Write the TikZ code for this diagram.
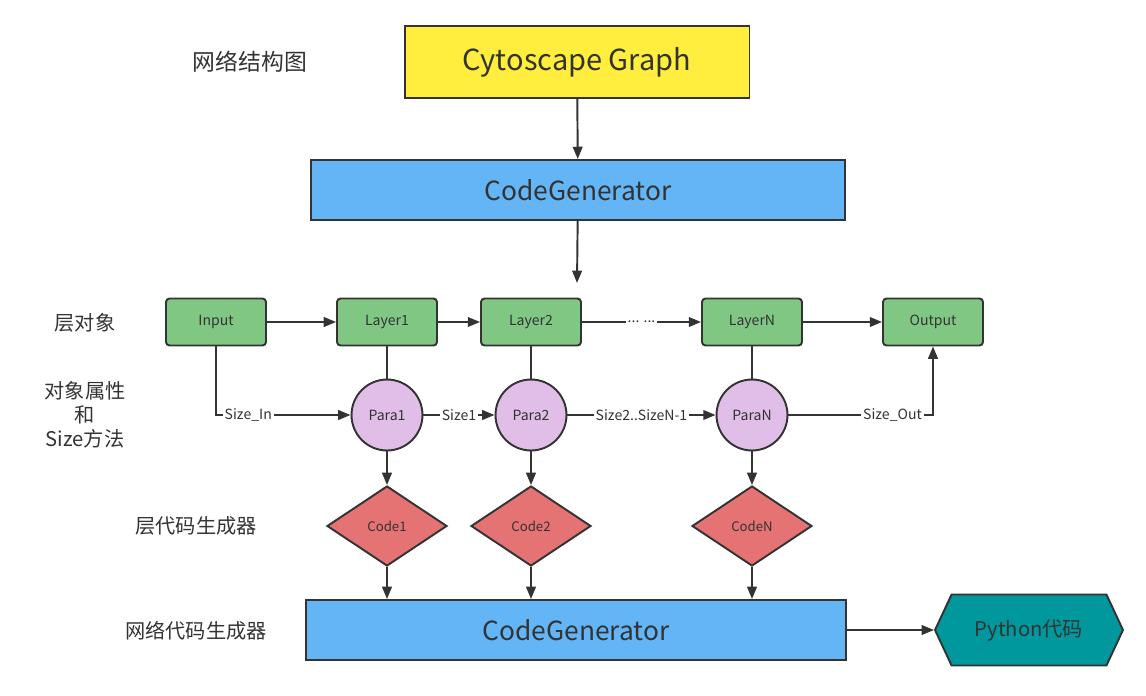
\documentclass[tikz,border=0pt]{standalone}
\usepackage{fontspec}
\setmainfont{Noto Sans CJK SC}
\usepackage{xcolor}
\usetikzlibrary{shapes.geometric,shapes.symbols,arrows.meta}
\definecolor{ink}{HTML}{333333}
\definecolor{yel}{HTML}{FFEE3D}
\definecolor{blu}{HTML}{64B5F6}
\definecolor{grn}{HTML}{81C784}
\definecolor{pur}{HTML}{E1BEE7}
\definecolor{red}{HTML}{E57373}
\definecolor{tea}{HTML}{00979D}

\begin{document}
\begin{tikzpicture}[x=0.02cm, y=-0.02cm, line width=1.1pt, draw=ink, text=ink,
  arr/.style={-{Triangle[length=7pt,width=5.5pt]}},
  big/.style={draw, minimum height=1.2cm, font=\fontsize{15}{18}\selectfont},
  layer/.style={draw, fill=grn, rounded corners=2pt, minimum width=2cm, minimum height=0.94cm, font=\fontsize{8}{10}\selectfont},
  para/.style={draw, fill=pur, circle, minimum size=1.42cm, inner sep=0pt, font=\fontsize{8}{10}\selectfont},
  code/.style={draw, fill=red, diamond, minimum width=2.4cm, minimum height=1.6cm, inner sep=0pt, font=\fontsize{7.5}{9}\selectfont},
  side/.style={font=\fontsize{11.5}{13.8}\selectfont, align=center},
  lbl/.style={fill=white, inner sep=1pt, font=\fontsize{8}{10}\selectfont}]
\useasboundingbox (0,0) rectangle (1146,696);

\node [big, fill=yel, minimum width=6.9cm, minimum height=1.44cm, font=\fontsize{16.5}{20}\selectfont] (graph) at (577,62) {Cytoscape Graph};
\node [big, fill=blu, minimum width=10.7cm] (gen1) at (578,190) {CodeGenerator};
\node [big, fill=blu, minimum width=10.8cm] (gen2) at (576,630) {CodeGenerator};
\node [draw, fill=tea, signal, signal to=west and east, signal pointer angle=130,
       minimum width=3.76cm, minimum height=1.42cm, font=\fontsize{11.5}{14}\selectfont] (py) at (1029,630) {Python代码};
\coordinate (gap) at (577,283);

\node [side, font=\fontsize{13}{16}\selectfont] (t0) at (250,62) {网络结构图};
\node [side] (t1) at (85,323) {层对象};
\node [side] (t2) at (85,415) {对象属性\\和\\Size方法};
\node [side] (t3) at (196,526) {层代码生成器};
\node [side] (t4) at (196,631) {网络代码生成器};

\node [layer] (in) at (216,322) {Input};
\node [layer] (l1) at (387,322) {Layer1};
\node [layer] (l2) at (531,322) {Layer2};
\node [layer] (ln) at (752,322) {LayerN};
\node [layer] (out) at (933,322) {Output};

\node [para] (p1) at (387,415) {Para1};
\node [para] (p2) at (531,415) {Para2};
\node [para] (pn) at (752,415) {ParaN};

\node [code] (c1) at (387,526) {Code1};
\node [code] (c2) at (531,526) {Code2};
\node [code] (cn) at (752,526) {CodeN};

\draw [arr] (graph) -- (gen1);
\draw [arr] (gen1) -- (gap);
\draw [arr] (in) -- (l1);
\draw [arr] (l1) -- (l2);
\draw [arr] (l2) -- node [lbl] {... ...} (ln);
\draw [arr] (ln) -- (out);
\draw (l1) -- (p1);
\draw (l2) -- (p2);
\draw (ln) -- (pn);
\draw [arr] (in) |- node [lbl, pos=0.62] {Size\_In} (p1);
\draw [arr] (p1) -- node [lbl] {Size1} (p2);
\draw [arr] (p2) -- node [lbl] {Size2..SizeN-1} (pn);
\draw [arr] (pn) -| node [lbl, pos=0.36] {Size\_Out} (out);
\draw [arr] (p1) -- (c1);
\draw [arr] (p2) -- (c2);
\draw [arr] (pn) -- (cn);
\draw [arr] (c1) -- (c1 |- gen2.north);
\draw [arr] (c2) -- (c2 |- gen2.north);
\draw [arr] (cn) -- (cn |- gen2.north);
\draw [arr] (gen2) -- (py);
\end{tikzpicture}
\end{document}
